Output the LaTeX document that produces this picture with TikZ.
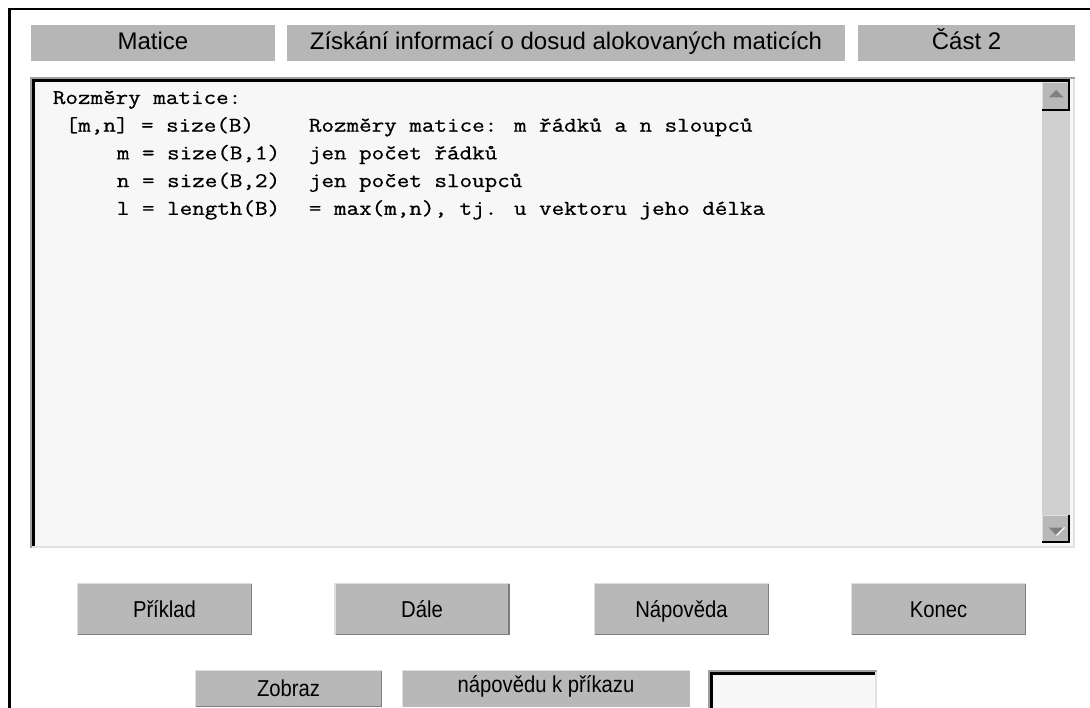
\documentclass[tikz,border=0pt]{standalone}
\usepackage{graphicx}
\usepackage{fontspec}
\setmainfont{Liberation Sans}
\newfontfamily\codefont[FakeBold=0.7]{Latin Modern Mono}
\usetikzlibrary{calc}
\definecolor{boxgray}{HTML}{B6B6B6}
\definecolor{btngray}{HTML}{B8B8B8}
\definecolor{hilite}{HTML}{DEDEDE}
\definecolor{shadow}{HTML}{7E7E7E}
\definecolor{paper}{HTML}{F7F7F7}
\definecolor{track}{HTML}{D0D0D0}
\definecolor{edgegray}{HTML}{A0A0A0}
\definecolor{lightedge}{HTML}{E2E2E2}
\definecolor{arrowgray}{HTML}{808080}
\newcommand\raisededges[1]{%
  \draw[hl] ([xshift=0.75pt]#1.south west) -- ([xshift=0.75pt,yshift=-0.75pt]#1.north west) -- ([yshift=-0.75pt]#1.north east);
  \draw[sh] ([xshift=-0.75pt,yshift=-1.5pt]#1.north east) -- ([xshift=-0.75pt,yshift=0.75pt]#1.south east) -- ([xshift=1.5pt,yshift=0.75pt]#1.south west);}
\newcommand\cw[1]{\scalebox{1.161}[1]{#1}}
\newcommand\bw[1]{\scalebox{0.88}[1]{#1}}
\tikzset{
  topbox/.style={fill=boxgray, inner sep=0pt, minimum height=36pt, text height=14pt, text depth=0pt, font=\fontsize{24}{28}\selectfont},
  btn/.style={fill=btngray, inner sep=0pt, minimum width=175pt, minimum height=52pt, text height=16.5pt, text depth=0pt, font=\fontsize{23}{26}\selectfont},
  code/.style={anchor=base west, inner sep=0pt, font=\codefont\fontsize{21}{27.7}\selectfont},
  hl/.style={draw=hilite, line width=1.5pt},
  sh/.style={draw=shadow, line width=1.5pt},
  sunkenout/.style={draw=edgegray, line width=2pt},
  sunkenin/.style={draw=black, line width=3pt},
  sunkenlight/.style={draw=lightedge, line width=2pt},
}
\begin{document}
\begin{tikzpicture}[x=1pt,y=-1pt]
\useasboundingbox (0,0) rectangle (1090,708);
\fill[white] (0,0) rectangle (1090,708);

% outer window frame
\coordinate (frBL) at (9.5,708);
\coordinate (frTL) at (9.5,9.2);
\coordinate (frTR) at (1090,9.2);
\draw[line width=2.6pt] (frBL) -- (frTL) -- (frTR);

% title bar
\node[topbox, minimum width=244pt] (matice) at (153,43) {Matice};
\node[topbox, minimum width=558pt] (nazev) at (566,43) {Získání informací o dosud alokovaných maticích};
\node[topbox, minimum width=217pt] (cast) at (966.5,43) {Část 2};

% text area
\node[fill=paper, minimum width=1045pt, minimum height=471pt, inner sep=0pt] (ta) at (552.5,312.5) {};
\fill[track] (1042,111) rectangle (1070,515);
\draw[sunkenlight] (29.5,546.8) -- (1075,546.8);
\draw[sunkenlight] (1074,77) -- (1074,548);
\draw[sunkenout] (29.5,78.3) -- (1075,78.3);
\draw[sunkenout] (30.5,77.3) -- (30.5,548);
\draw[sunkenin] (32,81) -- (1070,81);
\draw[sunkenin] (33.5,79.5) -- (33.5,545.5);

% scrollbar buttons
\node[fill=btngray, minimum width=28pt, minimum height=29pt, inner sep=0pt] (upbtn) at (1056,96.5) {};
\draw[hl] ([xshift=0.75pt]upbtn.south west) -- ([xshift=0.75pt,yshift=-0.75pt]upbtn.north west) -- ([yshift=-0.75pt]upbtn.north east);
\draw[draw=black, line width=2pt] ([xshift=-1pt,yshift=3pt]upbtn.north east) -- ([xshift=-1pt,yshift=1pt]upbtn.south east) -- ([yshift=1pt]upbtn.south west);
\fill[arrowgray] ($(upbtn.center)+(-7.5,1)$) -- ($(upbtn.center)+(7.5,1)$) -- ($(upbtn.center)+(0,-6.5)$) -- cycle;

\node[fill=btngray, minimum width=28pt, minimum height=28pt, inner sep=0pt] (dnbtn) at (1056,529) {};
\draw[hl] ([xshift=0.75pt]dnbtn.south west) -- ([xshift=0.75pt,yshift=-0.75pt]dnbtn.north west) -- ([yshift=-0.75pt]dnbtn.north east);
\draw[draw=black, line width=2pt] ([xshift=-1pt]dnbtn.north east) -- ([xshift=-1pt,yshift=1pt]dnbtn.south east) -- ([yshift=1pt]dnbtn.south west);
\fill[arrowgray] ($(dnbtn.center)+(-7.5,-1.5)$) -- ($(dnbtn.center)+(7.5,-1.5)$) -- ($(dnbtn.center)+(0,6)$) -- cycle;
\draw[white, line width=1.2pt] ($(dnbtn.center)+(0.5,6.5)$) -- ($(dnbtn.center)+(8.5,-1.5)$);

% listing
\node[code] (c1) at (52.7,104) {\cw{Rozměry matice:}};
\node[code] (c2a) at (65.5,131.7) {\cw{[m,n] = size(B)}};
\node[code] (c2b) at (308.7,131.7) {\cw{Rozměry matice: m řádků a n sloupců}};
\node[code] (c3a) at (116.7,159.4) {\cw{m = size(B,1)}};
\node[code] (c3b) at (308.7,159.4) {\cw{jen počet řádků}};
\node[code] (c4a) at (116.7,187.1) {\cw{n = size(B,2)}};
\node[code] (c4b) at (308.7,187.1) {\cw{jen počet sloupců}};
\node[code] (c5a) at (116.7,214.8) {\cw{l = length(B)}};
\node[code] (c5b) at (308.7,214.8) {\cw{= max(m,n), tj. u vektoru jeho délka}};

% buttons
\node[btn] (priklad) at (164.5,609) {\bw{Příklad}};
\node[btn] (dale) at (422,609) {\bw{Dále}};
\node[btn] (napoveda) at (681.5,609) {\bw{Nápověda}};
\node[btn] (konec) at (938.5,609) {\bw{Konec}};
\raisededges{priklad}
\raisededges{dale}
\raisededges{napoveda}
\raisededges{konec}

% bottom row
\node[btn, minimum width=187pt, minimum height=37pt] (zobraz) at (288.5,688.5) {\bw{Zobraz}};
\node[btn, minimum width=288pt, minimum height=37pt] (napkp) at (546,688.5) {\raisebox{4pt}{\bw{nápovědu k příkazu}}};
\raisededges{zobraz}
\draw[hl] ([xshift=0.75pt]napkp.south west) -- ([xshift=0.75pt,yshift=-0.75pt]napkp.north west) -- ([yshift=-0.75pt]napkp.north east);
\node[fill=paper, minimum width=169pt, minimum height=38pt, inner sep=0pt] (vstup) at (792.5,689) {};
\draw[sunkenlight] ([xshift=-1pt]vstup.north east) -- ([xshift=-1pt]vstup.south east);
\draw[sunkenout] (vstup.north west) ++(0,1) -- ++(169,0);
\draw[sunkenout] (vstup.north west) ++(1,0) -- ++(0,38);
\draw[sunkenin] ($(vstup.north west)+(2,3.5)$) -- ($(vstup.north east)+(-2,3.5)$);
\draw[sunkenin] ($(vstup.north west)+(3.5,2)$) -- ($(vstup.south west)+(3.5,0)$);
\end{tikzpicture}
\end{document}
